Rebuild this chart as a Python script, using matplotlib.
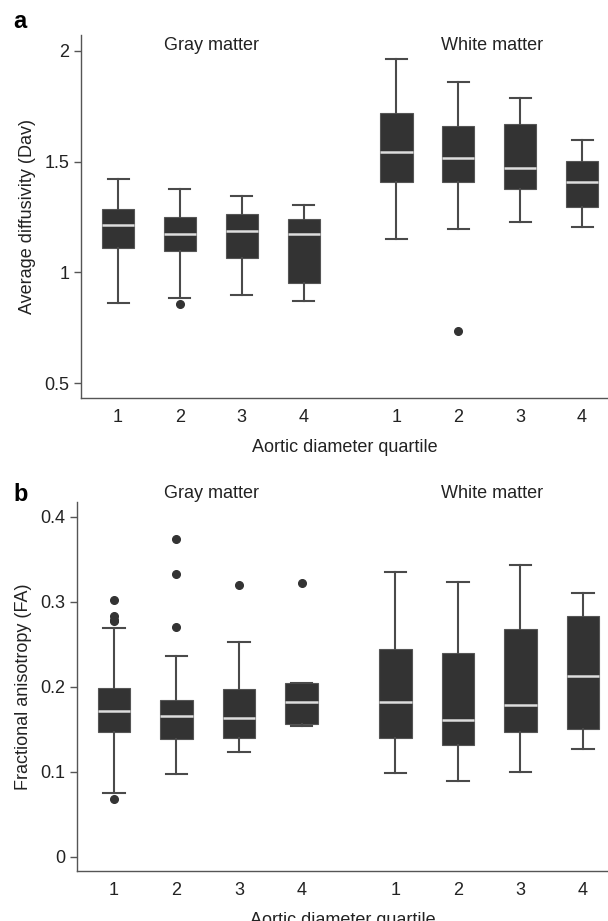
import matplotlib
matplotlib.use("Agg")
import matplotlib.pyplot as plt

plt.rcParams["font.family"] = ["Liberation Sans", "DejaVu Sans"]

quartiles = ["1", "2", "3", "4", "1", "2", "3", "4"]
positions = [1, 2, 3, 4, 5.5, 6.5, 7.5, 8.5]

# panel a: average diffusivity (whislo, q1, med, q3, whishi)
dav_stats = [
    (0.863, 1.108, 1.213, 1.284, 1.423),
    (0.886, 1.095, 1.173, 1.249, 1.374),
    (0.899, 1.066, 1.187, 1.264, 1.345),
    (0.871, 0.952, 1.171, 1.243, 1.305),
    (1.151, 1.408, 1.543, 1.718, 1.962),
    (1.198, 1.408, 1.516, 1.662, 1.859),
    (1.228, 1.378, 1.473, 1.669, 1.788),
    (1.205, 1.296, 1.408, 1.503, 1.597),
]
dav_fliers = [[], [0.857], [], [], [], [0.736], [], []]

# panel b: fractional anisotropy
fa_stats = [
    (0.0755, 0.147, 0.172, 0.199, 0.269),
    (0.0975, 0.138, 0.166, 0.184, 0.236),
    (0.1235, 0.140, 0.163, 0.197, 0.253),
    (0.154, 0.1565, 0.182, 0.2045, 0.2045),
    (0.098, 0.140, 0.182, 0.245, 0.335),
    (0.0896, 0.131, 0.161, 0.240, 0.3235),
    (0.0995, 0.147, 0.179, 0.268, 0.344),
    (0.127, 0.150, 0.213, 0.283, 0.311),
]
fa_fliers = [[0.302, 0.283, 0.279, 0.277, 0.0677], [0.374, 0.333, 0.271],
             [0.320], [0.322], [], [], [], []]

BOX = "#333333"
LINE = "#4a4a4a"
AXC = "#555555"
TXT = "#222222"
FS = 13


def draw(ax, stats, fliers, yticks, yticklabels, ylim, xlim, ylabel):
    bxp_stats = []
    for (lo, q1, med, q3, hi), fl in zip(stats, fliers):
        bxp_stats.append(dict(whislo=lo, q1=q1, med=med, q3=q3, whishi=hi, fliers=fl))
    ax.bxp(bxp_stats, positions=positions, widths=0.52, patch_artist=True,
           showfliers=True,
           boxprops=dict(facecolor=BOX, edgecolor="#555555", linewidth=0.8),
           medianprops=dict(color="#dddddd", linewidth=1.8),
           whiskerprops=dict(color=LINE, linewidth=1.5),
           capprops=dict(color=LINE, linewidth=1.5),
           capwidths=0.34,
           flierprops=dict(marker="o", markerfacecolor=BOX, markeredgecolor=BOX,
                           markersize=5.5))
    ax.set_xlim(*xlim)
    ax.set_ylim(*ylim)
    ax.set_xticks(positions)
    ax.set_xticklabels(quartiles)
    ax.set_yticks(yticks)
    ax.set_yticklabels(yticklabels)
    for s in ["top", "right"]:
        ax.spines[s].set_visible(False)
    for s in ["left", "bottom"]:
        ax.spines[s].set_color(AXC)
        ax.spines[s].set_linewidth(1.0)
    ax.tick_params(colors=AXC, labelcolor=TXT, labelsize=FS, length=5, width=1)
    ax.tick_params(axis="x", length=0, pad=8)
    ax.set_xlabel("Aortic diameter quartile", fontsize=FS, color=TXT, labelpad=9)
    ax.set_ylabel(ylabel, fontsize=FS, color=TXT, labelpad=6)


fig = plt.figure(figsize=(6.08, 9.21), dpi=100)

ax1 = fig.add_axes([0.1332, 0.5679, 0.8668, 0.394])
draw(ax1, dav_stats, dav_fliers, [0.5, 1, 1.5, 2], ["0.5", "1", "1.5", "2"],
     (0.434, 2.07), (0.4, 8.92), "Average diffusivity (Dav)")

ax2 = fig.add_axes([0.1266, 0.0543, 0.8734, 0.401])
draw(ax2, fa_stats, fa_fliers, [0, 0.1, 0.2, 0.3, 0.4], ["0", "0.1", "0.2", "0.3", "0.4"],
     (-0.0169, 0.418), (0.41, 8.9), "Fractional anisotropy (FA)")

fig.text(13 / 608, 1 - 21 / 921, "a", fontsize=17, fontweight="bold", va="center")
fig.text(13 / 608, 1 - 494 / 921, "b", fontsize=17, fontweight="bold", va="center")
for y in [45, 493]:
    fig.text(212 / 608, 1 - y / 921, "Gray matter", fontsize=FS, ha="center",
             va="center", color=TXT)
    fig.text(492 / 608, 1 - y / 921, "White matter", fontsize=FS, ha="center",
             va="center", color=TXT)

fig.savefig("out.png", dpi=100)
